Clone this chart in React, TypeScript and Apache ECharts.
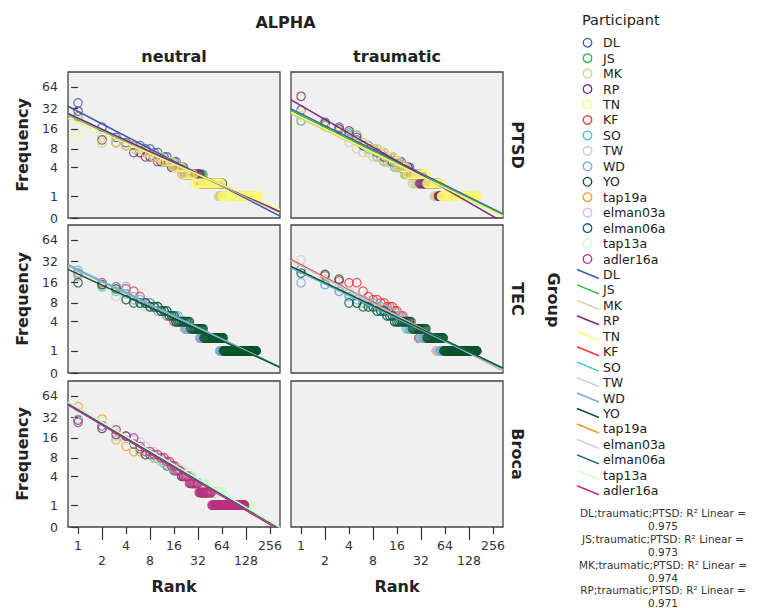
import React, { useEffect, useRef } from 'react';
import * as echarts from 'echarts';

// ---------- categories ----------
const participants = ['DL', 'JS', 'MK', 'RP', 'TN', 'KF', 'SO', 'TW', 'WD', 'YO', 'tap19a', 'elman03a', 'elman06a', 'tap13a', 'adler16a'];
const participantColors = ['#3E58AC', '#2EB848', '#D3CE97', '#7C287D', '#FBF873', '#EF3338', '#48C2C5', '#CCCCCC', '#7AAAD5', '#0A562C', '#F8981D', '#DDBAF1', '#1A5F76', '#CCFFCC', '#BA3180'];
const conditions = ['neutral', 'traumatic'];
const groups = ['PTSD', 'TEC', 'Broca'];
const groupMembers = [
  ['DL', 'JS', 'MK', 'RP', 'TN'],
  ['KF', 'SO', 'TW', 'WD', 'YO'],
  ['tap19a', 'elman03a', 'elman06a', 'tap13a', 'adler16a'],
];

// ---------- tick labels ----------
const rankTickLabels = [1, 2, 4, 8, 16, 32, 64, 128, 256];
const freqTickLabels = [0, 1, 4, 8, 16, 32, 64];

// ---------- frequency spectra: [frequency, number of word types], most frequent first ----------
// PTSD, neutral
const DL_neutral = [[38, 1], [17, 1], [12, 1], [10, 1], [9, 2], [8, 2], [7, 2], [6, 3], [5, 4], [4, 4], [3, 12], [2, 28], [1, 110]];
const JS_neutral = [[24, 1], [10, 2], [9, 1], [8, 2], [7, 2], [6, 3], [5, 4], [4, 6], [3, 16], [2, 28], [1, 105]];
const MK_neutral = [[25, 1], [12, 1], [10, 1], [9, 2], [7, 2], [6, 3], [5, 4], [4, 5], [3, 12], [2, 26], [1, 100]];
const RP_neutral = [[29, 1], [11, 1], [10, 1], [9, 1], [7, 2], [6, 3], [5, 5], [4, 6], [3, 14], [2, 30], [1, 110]];
const TN_neutral = [[13, 1], [10, 2], [9, 1], [8, 2], [7, 2], [6, 3], [5, 4], [4, 5], [3, 8], [2, 35], [1, 118]];
// PTSD, traumatic
const DL_traumatic = [[30, 1], [19, 1], [17, 1], [13, 1], [11, 1], [9, 2], [8, 2], [7, 2], [6, 3], [5, 4], [4, 5], [3, 10], [2, 22], [1, 90]];
const JS_traumatic = [[21, 1], [18, 1], [15, 1], [14, 1], [13, 1], [10, 1], [8, 2], [6, 2], [5, 4], [4, 5], [3, 10], [2, 24], [1, 95]];
const MK_traumatic = [[25, 1], [17, 1], [15, 1], [10, 1], [8, 1], [7, 2], [6, 3], [5, 4], [4, 5], [3, 5], [2, 22], [1, 100]];
const RP_traumatic = [[47, 1], [20, 1], [16, 1], [15, 1], [12, 1], [9, 2], [8, 1], [7, 2], [6, 3], [5, 4], [4, 5], [3, 8], [2, 22], [1, 55]];
const TN_traumatic = [[27, 1], [17, 1], [14, 1], [12, 1], [10, 2], [9, 1], [8, 2], [7, 2], [6, 3], [5, 3], [4, 4], [3, 16], [2, 20], [1, 104]];
// TEC, neutral
const KF_neutral = [[22, 1], [16, 1], [14, 1], [13, 1], [12, 1], [10, 1], [8, 2], [7, 2], [6, 2], [5, 3], [4, 6], [3, 12], [2, 28], [1, 100]];
const SO_neutral = [[24, 1], [14, 1], [12, 1], [11, 1], [9, 2], [8, 2], [7, 2], [6, 3], [5, 5], [4, 6], [3, 13], [2, 30], [1, 100]];
const TW_neutral = [[21, 1], [15, 1], [10, 1], [9, 2], [8, 1], [7, 3], [6, 3], [5, 4], [4, 5], [3, 12], [2, 26], [1, 95]];
const WD_neutral = [[20, 1], [15, 1], [14, 2], [10, 1], [8, 2], [7, 2], [6, 3], [5, 4], [4, 5], [3, 12], [2, 26], [1, 98]];
const YO_neutral = [[16, 1], [15, 1], [13, 1], [9, 1], [8, 3], [7, 3], [6, 3], [5, 3], [4, 9], [3, 12], [2, 29], [1, 106]];
// TEC, traumatic
const KF_traumatic = [[25, 1], [20, 1], [17, 1], [16, 2], [12, 1], [10, 1], [9, 2], [8, 2], [7, 3], [6, 2], [5, 3], [4, 4], [3, 6], [2, 20], [1, 80]];
const SO_traumatic = [[25, 1], [15, 1], [12, 1], [10, 1], [8, 2], [7, 2], [6, 3], [5, 3], [4, 6], [3, 10], [2, 24], [1, 90]];
const TW_traumatic = [[34, 1], [18, 1], [14, 1], [12, 1], [10, 1], [9, 1], [8, 2], [7, 2], [6, 3], [5, 4], [4, 5], [3, 9], [2, 18], [1, 80]];
const WD_traumatic = [[16, 1], [15, 1], [12, 1], [11, 1], [9, 2], [8, 2], [7, 2], [6, 3], [5, 4], [4, 5], [3, 10], [2, 22], [1, 88]];
const YO_traumatic = [[22, 1], [21, 1], [18, 1], [8, 2], [7, 3], [6, 3], [5, 3], [4, 10], [3, 13], [2, 24], [1, 100]];
// Broca, neutral
const tap19a_neutral = [[45, 1], [30, 1], [15, 1], [12, 1], [10, 2], [9, 2], [8, 3], [7, 2], [6, 3], [5, 4], [4, 5], [3, 8], [2, 18], [1, 70]];
const elman03a_neutral = [[30, 1], [22, 1], [17, 1], [15, 2], [14, 1], [12, 1], [10, 2], [8, 3], [7, 2], [6, 3], [5, 4], [4, 6], [3, 10], [2, 20], [1, 85]];
const elman06a_neutral = [[29, 1], [22, 1], [18, 1], [17, 1], [13, 1], [11, 1], [9, 2], [8, 2], [7, 2], [6, 3], [5, 4], [4, 7], [3, 8], [2, 18], [1, 70]];
const tap13a_neutral = [[33, 1], [28, 1], [23, 1], [15, 1], [12, 2], [10, 2], [8, 2], [7, 3], [6, 3], [5, 5], [4, 6], [3, 14], [2, 24], [1, 80]];
const adler16a_neutral = [[27, 1], [24, 1], [21, 1], [17, 1], [16, 1], [12, 1], [10, 2], [9, 2], [8, 2], [7, 2], [6, 2], [5, 3], [4, 5], [3, 8], [2, 15], [1, 76]];

// ---------- linear fits (log2 frequency+1 vs log2 rank): [intercept, slope], participant order ----------
const fitNeutral = [
  [4.89, -0.571], [4.51, -0.505], [4.55, -0.51], [4.58, -0.51], [4.37, -0.474],
  [4.66, -0.522], [4.68, -0.525], [4.64, -0.52], [4.66, -0.522], [4.48, -0.502],
  [5.45, -0.654], [5.42, -0.65], [5.38, -0.648], [5.47, -0.652], [5.33, -0.652],
];
const fitTraumatic = [
  [4.78, -0.546], [4.70, -0.542], [4.56, -0.53], [5.15, -0.634], [4.63, -0.541],
  [4.89, -0.569], [4.6, -0.52], [4.85, -0.565], [4.54, -0.518], [4.61, -0.521],
];

// ---------- R² annotations ----------
const r2Labels = ['DL;traumatic;PTSD', 'JS;traumatic;PTSD', 'MK;traumatic;PTSD', 'RP;traumatic;PTSD'];
const r2Values = ['0.975', '0.973', '0.974', '0.971'];

const spectra: Record<string, Record<string, number[][]>> = {
  neutral: {
    DL: DL_neutral, JS: JS_neutral, MK: MK_neutral, RP: RP_neutral, TN: TN_neutral,
    KF: KF_neutral, SO: SO_neutral, TW: TW_neutral, WD: WD_neutral, YO: YO_neutral,
    tap19a: tap19a_neutral, elman03a: elman03a_neutral, elman06a: elman06a_neutral, tap13a: tap13a_neutral, adler16a: adler16a_neutral,
  },
  traumatic: {
    DL: DL_traumatic, JS: JS_traumatic, MK: MK_traumatic, RP: RP_traumatic, TN: TN_traumatic,
    KF: KF_traumatic, SO: SO_traumatic, TW: TW_traumatic, WD: WD_traumatic, YO: YO_traumatic,
  },
};
const fits: Record<string, number[][]> = { neutral: fitNeutral, traumatic: fitTraumatic };

// ---------- layout ----------
const FONT = '"DejaVu Sans", Verdana, sans-serif';
const X_MIN = -0.42;
const X_MAX = 8.42;
const Y_MAX = 6.7;
const GRID_LEFTS = [68, 291];
const GRID_W = 212;
const GRID_TOPS = [72, 225, 381];
const GRID_HS = [146, 148, 146];

const toPoints = (spec: number[][]) => {
  const pts: number[][] = [];
  let r = 1;
  for (const [f, c] of spec) {
    for (let i = 0; i < c; i++) {
      pts.push([Math.log2(r), Math.log2(f + 1)]);
      r++;
    }
  }
  return pts;
};

function buildOption() {
  const xTickVals = rankTickLabels.map((r) => Math.log2(r));
  const yTickVals = freqTickLabels.map((f) => Math.log2(f + 1));
  const evenX = xTickVals.filter((_, i) => i % 2 === 0);
  const oddX = xTickVals.filter((_, i) => i % 2 === 1);

  const grid: any[] = [];
  const xAxis: any[] = [];
  const yAxis: any[] = [];
  const scatterSeries: any[] = [];
  const lineSeries: any[] = [];

  groups.forEach((g, gi) => {
    conditions.forEach((cond, ci) => {
      const idx = gi * 2 + ci;
      grid.push({
        left: GRID_LEFTS[ci], top: GRID_TOPS[gi], width: GRID_W, height: GRID_HS[gi],
        show: true, backgroundColor: '#F0F0F0', borderColor: '#444', borderWidth: 1.3,
      });
      const bottomRow = gi === groups.length - 1;
      xAxis.push({
        type: 'value', gridIndex: idx, min: X_MIN, max: X_MAX, show: bottomRow, position: 'bottom',
        axisLine: { show: false }, splitLine: { show: false },
        axisTick: { show: true, length: 7, customValues: evenX, lineStyle: { color: '#333', width: 1.2 } },
        axisLabel: {
          show: true, customValues: xTickVals, margin: 11, lineHeight: 15,
          fontFamily: FONT, fontSize: 12.5, color: '#333',
          formatter: (v: number) => {
            const i = xTickVals.findIndex((t) => Math.abs(t - v) < 1e-6);
            const lbl = String(rankTickLabels[i]);
            return i % 2 === 1 ? '\n' + lbl : lbl;
          },
        },
      });
      yAxis.push({
        type: 'value', gridIndex: idx, min: 0, max: Y_MAX, show: ci === 0,
        axisLine: { show: false }, splitLine: { show: false },
        axisTick: { show: true, length: 7, customValues: yTickVals, lineStyle: { color: '#333', width: 1.2 } },
        axisLabel: {
          show: true, customValues: yTickVals, margin: 10,
          fontFamily: FONT, fontSize: 12.5, color: '#333',
          formatter: (v: number) => {
            const i = yTickVals.findIndex((t) => Math.abs(t - v) < 1e-6);
            return String(freqTickLabels[i]);
          },
        },
      });

      const specs = spectra[cond];
      groupMembers[gi].forEach((p) => {
        const spec = specs[p];
        if (!spec) return;
        const pi = participants.indexOf(p);
        const color = participantColors[pi];
        scatterSeries.push({
          type: 'scatter', name: p, xAxisIndex: idx, yAxisIndex: idx,
          data: toPoints(spec), symbol: 'circle', symbolSize: 8.5,
          itemStyle: { color: 'rgba(0,0,0,0)', borderColor: color, borderWidth: 1.2 },
          silent: true, z: 2,
        });
        const [a, b] = fits[cond][pi];
        lineSeries.push({
          type: 'line', name: p + ' fit', xAxisIndex: idx, yAxisIndex: idx,
          data: [[X_MIN, a + b * X_MIN], [X_MAX, a + b * X_MAX]],
          symbol: 'none', clip: true, silent: true, z: 3,
          lineStyle: { color, width: 1.5 },
        });
      });
    });
  });

  // long ticks for the lower label row
  [4, 5].forEach((gIdx) => {
    xAxis.push({
      type: 'value', gridIndex: gIdx, min: X_MIN, max: X_MAX, position: 'bottom',
      axisLine: { show: false }, splitLine: { show: false },
      axisTick: { show: true, length: 13, customValues: oddX, lineStyle: { color: '#333', width: 1.2 } },
      axisLabel: { show: false },
    });
  });

  const txt = (text: string, x: number, y: number, size: number, bold: boolean, rotation = 0, align = 'center', fill = '#222') => ({
    type: 'text', x, y, rotation, silent: true,
    style: {
      text, fill, font: `${bold ? 'bold ' : ''}${size}px ${FONT}`,
      textAlign: align, textVerticalAlign: 'middle', align, verticalAlign: 'middle',
    },
  });

  const graphics: any[] = [];
  const midX = (GRID_LEFTS[0] + GRID_LEFTS[1] + GRID_W) / 2;
  graphics.push(txt('ALPHA', midX, 22, 16, true));
  conditions.forEach((c, ci) => {
    graphics.push(txt(c, GRID_LEFTS[ci] + GRID_W / 2, 56, 16, true));
    graphics.push(txt('Rank', GRID_LEFTS[ci] + GRID_W / 2, 586, 16, true));
  });
  groups.forEach((g, gi) => {
    const cy = GRID_TOPS[gi] + GRID_HS[gi] / 2;
    graphics.push(txt('Frequency', 22, cy, 16, true, Math.PI / 2));
    graphics.push(txt(g, 517, cy, 16, true, -Math.PI / 2));
  });
  graphics.push(txt('Group', 553, 300, 16, true, -Math.PI / 2));

  // legend
  graphics.push(txt('Participant', 582, 20, 14.5, false, 0, 'left'));
  const step = 15.45;
  participants.forEach((p, i) => {
    const y = 42.7 + i * step;
    graphics.push({
      type: 'circle', silent: true, shape: { cx: 587.5, cy: y, r: 4.3 },
      style: { fill: 'none', stroke: participantColors[i], lineWidth: 1.3 },
    });
    graphics.push(txt(p, 603, y, 12.5, false, 0, 'left'));
  });
  participants.forEach((p, i) => {
    const y = 42.7 + (participants.length + i) * step;
    graphics.push({
      type: 'line', silent: true, shape: { x1: 577, y1: y - 5, x2: 599, y2: y + 4 },
      style: { stroke: participantColors[i], lineWidth: 1.5 },
    });
    graphics.push(txt(p, 603, y, 12.5, false, 0, 'left'));
  });
  r2Labels.forEach((l, i) => {
    const y = 513 + i * 25.8;
    graphics.push(txt(l + ': R² Linear =', 663, y, 10.5, false, 0, 'center', '#333'));
    graphics.push(txt(r2Values[i], 663, y + 12.9, 10.5, false, 0, 'center', '#333'));
  });

  return {
    animation: false,
    backgroundColor: '#ffffff',
    textStyle: { fontFamily: FONT },
    grid, xAxis, yAxis,
    series: [...scatterSeries, ...lineSeries],
    graphic: graphics,
  };
}

export default function App() {
  const ref = useRef<HTMLDivElement>(null);
  useEffect(() => {
    document.body.style.margin = '0';
    if (!ref.current) return;
    const chart = echarts.init(ref.current, undefined, { renderer: 'svg' });
    chart.setOption(buildOption() as any);
    return () => chart.dispose();
  }, []);
  return <div ref={ref} style={{ width: 760, height: 608, position: 'absolute', left: 0, top: 0 }} />;
}
